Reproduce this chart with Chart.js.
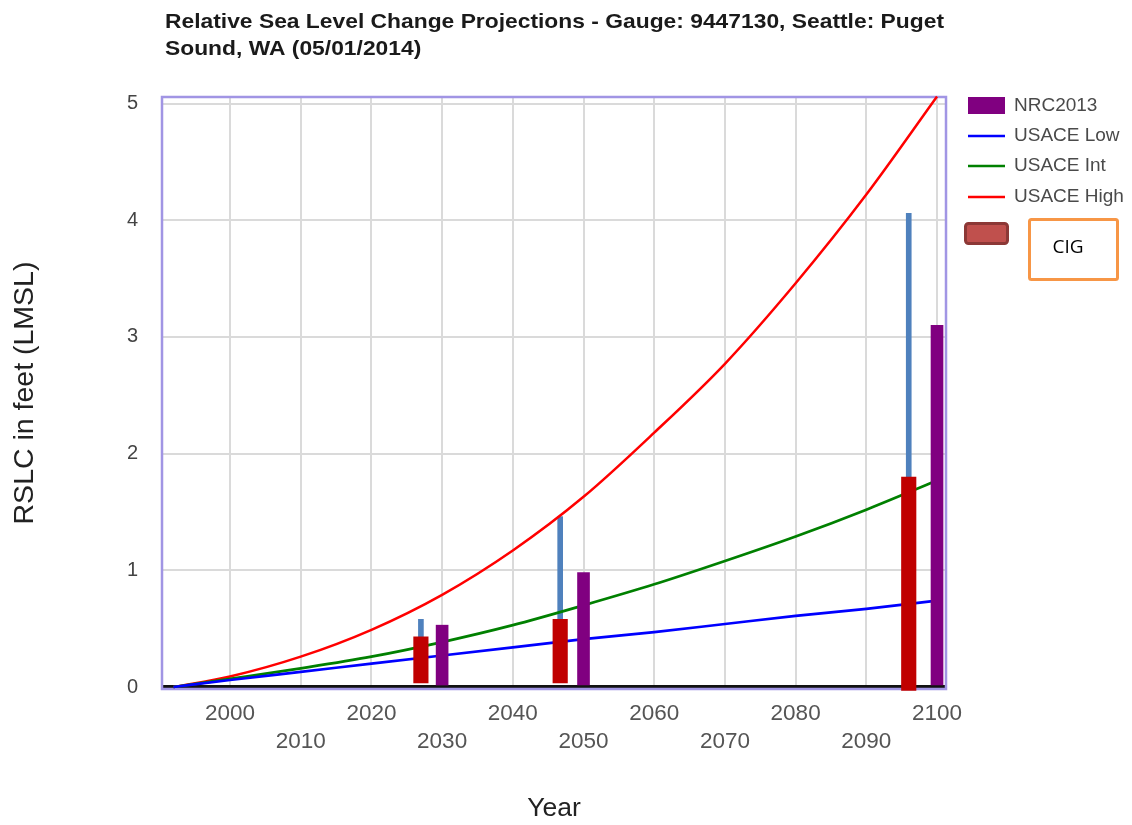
<!DOCTYPE html>
<html><head><meta charset="utf-8">
<script src="https://cdn.jsdelivr.net/npm/chart.js@4.4.1/dist/chart.umd.min.js"></script>
<style>html,body{margin:0;padding:0;background:#fff}#wrap{width:1132px;height:825px;position:relative}</style>
</head><body><div id="wrap"><canvas id="c" width="1132" height="825"></canvas></div>
<script>
// ---- data ----
const years      = [1992, 2000, 2010, 2020, 2030, 2040, 2050, 2060, 2070, 2080, 2090, 2100];
const usaceLow   = [0, 0.06, 0.13, 0.20, 0.27, 0.34, 0.41, 0.47, 0.54, 0.61, 0.67, 0.74];
const usaceInt   = [0, 0.07, 0.16, 0.26, 0.385, 0.53, 0.70, 0.88, 1.08, 1.29, 1.52, 1.77];
const usaceHigh  = [0, 0.09, 0.26, 0.49, 0.79, 1.17, 1.63, 2.18, 2.77, 3.46, 4.22, 5.06];
const nrcYears   = [2030, 2050, 2100];
const nrcValues  = [0.53, 0.98, 3.10];
const cigYears   = [2027, 2046.7, 2096];
const cigLow     = [0.035, 0.035, -0.03];
const cigCentral = [0.43, 0.58, 1.80];
const cigHigh    = [0.58, 1.46, 4.06];
const xTicks     = [2000, 2010, 2020, 2030, 2040, 2050, 2060, 2070, 2080, 2090, 2100];
const yTicks     = [0, 1, 2, 3, 4, 5];
const seriesNames = ['NRC2013', 'USACE Low', 'USACE Int', 'USACE High', 'CIG'];
const titleLines = ['Relative Sea Level Change Projections - Gauge: 9447130, Seattle: Puget', 'Sound, WA (05/01/2014)'];
const xTitle = 'Year';
const yTitle = 'RSLC in feet (LMSL)';

const FONT = '"Liberation Sans", Arial, sans-serif';
const pts = (xs, ys) => xs.map((x, i) => ({x: x, y: ys[i]}));

const decor = {
  id: 'decor',
  beforeDatasetsDraw(chart) {
    const {ctx, chartArea: a} = chart;
    ctx.save();
    ctx.strokeStyle = '#a195e4';
    ctx.lineWidth = 2.5;
    ctx.strokeRect(a.left, a.top, a.right - a.left, a.bottom - a.top);
    ctx.restore();
  },
  afterDraw(chart) {
    const ctx = chart.ctx;
    ctx.save();
    // title (stretched horizontally to the reference width)
    ctx.fillStyle = '#1a1a1a';
    ctx.font = 'bold 21px ' + FONT;
    ctx.textAlign = 'left';
    ctx.textBaseline = 'alphabetic';
    const sx = 779 / ctx.measureText(titleLines[0]).width;
    ctx.save();
    ctx.translate(165, 0);
    ctx.scale(sx, 1);
    ctx.fillText(titleLines[0], 0, 27.5);
    ctx.fillText(titleLines[1], 0, 55);
    ctx.restore();
    // legend
    const lx = 968, lw = 37, tx = 1014;
    ctx.font = '19px ' + FONT;
    ctx.textBaseline = 'middle';
    ctx.fillStyle = '#800080';
    ctx.fillRect(lx, 97, lw, 17);
    const lineRows = [[136, '#0000ff'], [166, '#008000'], [197, '#ff0000']];
    lineRows.forEach(r => {
      ctx.strokeStyle = r[1]; ctx.lineWidth = 2.5;
      ctx.beginPath(); ctx.moveTo(lx, r[0]); ctx.lineTo(lx + lw, r[0]); ctx.stroke();
    });
    ctx.fillStyle = '#4a4a4a';
    ctx.fillText(seriesNames[0], tx, 106);
    ctx.fillText(seriesNames[1], tx, 136);
    ctx.fillText(seriesNames[2], tx, 166);
    ctx.fillText(seriesNames[3], tx, 197);
    // CIG swatch
    ctx.beginPath();
    ctx.roundRect(965.5, 223.5, 42, 20, 3);
    ctx.fillStyle = '#c0504d'; ctx.fill();
    ctx.strokeStyle = '#8c3836'; ctx.lineWidth = 3; ctx.stroke();
    // CIG box
    ctx.strokeStyle = '#f79646'; ctx.lineWidth = 3;
    ctx.beginPath(); ctx.roundRect(1029.5, 219.5, 88, 60, 2); ctx.stroke();
    ctx.fillStyle = '#000';
    ctx.font = '19px "Open Sans", Arial, sans-serif';
    ctx.textAlign = 'center';
    ctx.fillText(seriesNames[4], 1068, 248);
    ctx.restore();
  }
};

new Chart(document.getElementById('c'), {
  type: 'line',
  data: {
    datasets: [
      {type: 'bar', label: 'CIG range', data: pts(cigYears, cigCentral.map((v, i) => [v, cigHigh[i]])),
       backgroundColor: '#4f81bd', barThickness: 5, grouped: false, order: 3},
      {type: 'bar', label: 'CIG', data: pts(cigYears, cigLow.map((v, i) => [v, cigCentral[i]])),
       backgroundColor: '#c00000', barThickness: 14.5, grouped: false, order: 1, clip: false},
      {type: 'bar', label: seriesNames[0], data: pts(nrcYears, nrcValues),
       backgroundColor: '#800080', barThickness: 12, grouped: false, order: 1},
      {label: seriesNames[1], data: pts(years, usaceLow), borderColor: '#0000ff', borderWidth: 2.7,
       pointRadius: 0, cubicInterpolationMode: 'monotone', fill: false, order: 2},
      {label: seriesNames[2], data: pts(years, usaceInt), borderColor: '#008000', borderWidth: 2.7,
       pointRadius: 0, cubicInterpolationMode: 'monotone', fill: false, order: 2},
      {label: seriesNames[3], data: pts(years, usaceHigh), borderColor: '#ff0000', borderWidth: 2.5,
       pointRadius: 0, cubicInterpolationMode: 'monotone', fill: false, order: 2, clip: 4}
    ]
  },
  options: {
    responsive: false,
    animation: false,
    devicePixelRatio: 1,
    layout: {padding: {left: 0, top: 97, right: 186, bottom: 0}},
    plugins: {legend: {display: false}, title: {display: false}, tooltip: {enabled: false}},
    scales: {
      x: {
        type: 'linear', min: 1990.38, max: 2101.27, offset: false,
        afterBuildTicks: s => { s.ticks = xTicks.map(v => ({value: v})); },
        afterFit: s => { s.height = 136; },
        ticks: {
          padding: 10.5, color: '#555', maxRotation: 0, autoSkip: false,
          font: {family: FONT, size: 22.5, lineHeight: 1.244},
          callback: (v, i) => i % 2 === 0 ? String(v) : ['', String(v)]
        },
        grid: {color: '#dadada', lineWidth: 2, drawTicks: false, offset: false},
        border: {display: false},
        title: {display: true, text: xTitle, color: '#222',
                font: {family: FONT, size: 26.5, lineHeight: 1.2},
                padding: {top: 0, bottom: 0}}
      },
      y: {
        type: 'linear', min: -0.017, max: 5.056,
        afterBuildTicks: s => { s.ticks = yTicks.map(v => ({value: v})); },
        afterFit: s => { s.width = 162; },
        ticks: {padding: 24, color: '#444', font: {family: FONT, size: 20}},
        grid: {
          drawTicks: false,
          color: c => c.tick && c.tick.value === 0 ? '#111' : '#dadada',
          lineWidth: c => c.tick && c.tick.value === 0 ? 4 : 2
        },
        border: {display: false},
        title: {display: true, text: yTitle, color: '#222',
                font: {family: FONT, size: 28.5, lineHeight: 1.2},
                padding: {top: 8, bottom: 0}}
      }
    }
  },
  plugins: [decor]
});
</script>
</body></html>
